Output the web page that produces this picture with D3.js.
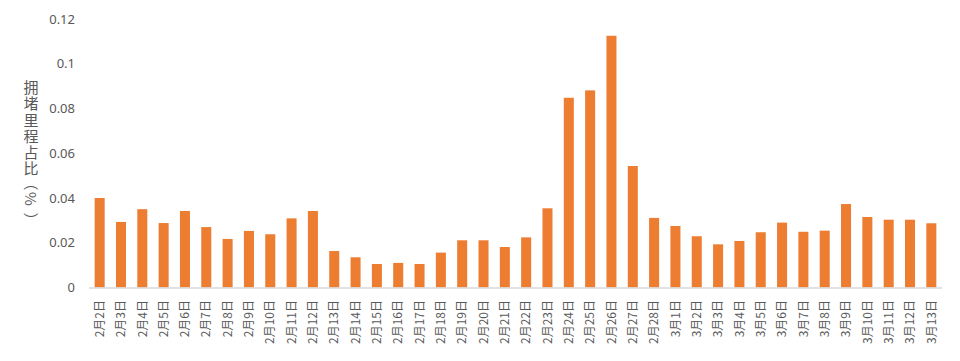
<!DOCTYPE html>
<html><head><meta charset="utf-8">
<script src="https://cdn.jsdelivr.net/npm/d3@7/dist/d3.min.js"></script>
<style>
body{margin:0;background:#fff;}
svg{display:block;}
</style></head>
<body>
<svg id="c" width="960" height="361"></svg>
<script>
const categories = ["2月2日","2月3日","2月4日","2月5日","2月6日","2月7日","2月8日","2月9日","2月10日","2月11日","2月12日","2月13日","2月14日","2月15日","2月16日","2月17日","2月18日","2月19日","2月20日","2月21日","2月22日","2月23日","2月24日","2月25日","2月26日","2月27日","2月28日","3月1日","3月2日","3月3日","3月4日","3月5日","3月6日","3月7日","3月8日","3月9日","3月10日","3月11日","3月12日","3月13日"];
const values = [0.0400,0.0293,0.0350,0.0288,0.0342,0.0270,0.0217,0.0253,0.0238,0.0309,0.0342,0.0163,0.0135,0.0105,0.0110,0.0105,0.0156,0.0211,0.0211,0.0181,0.0224,0.0354,0.0848,0.0881,0.1125,0.0543,0.0311,0.0275,0.0229,0.0193,0.0208,0.0247,0.0290,0.0249,0.0254,0.0373,0.0315,0.0303,0.0303,0.0287];
const yTicks = [0,0.02,0.04,0.06,0.08,0.1,0.12];
const yTitleMain = "拥堵里程占比";
const yTitleUnit = ["（","%","）"];

(function(){
const svg = d3.select("#c");
const mLeft = 89, mRight = 942, mTop = 19, mBottom = 287.5;
const x = d3.scaleBand().domain(categories).range([mLeft, mRight]).paddingInner(0.53).paddingOuter(0.265);
const y = d3.scaleLinear().domain([0, 0.12]).range([mBottom, mTop]);

svg.append("g").selectAll("rect").data(values).join("rect")
  .attr("x", (d,i) => x(categories[i]))
  .attr("width", x.bandwidth())
  .attr("y", d => y(d))
  .attr("height", d => y(0) - y(d))
  .attr("fill", "#ed7d31");

// x axis line
svg.append("line").attr("x1", mLeft).attr("x2", mRight).attr("y1", y(0)+0.5).attr("y2", y(0)+0.5)
  .attr("stroke", "#d9d9d9").attr("stroke-width", 1.5);

// y tick labels
const ya = d3.axisLeft(y).tickValues(yTicks).tickSize(0).tickPadding(0).tickFormat(d => String(+d.toFixed(2)));
const yg = svg.append("g").attr("transform", `translate(75,0)`).call(ya);
yg.select(".domain").remove();
yg.selectAll("text").attr("font-family", "'Noto Sans', 'Liberation Sans', sans-serif").attr("font-size", 13).attr("fill", "#595959");

// x labels
const xa = d3.axisBottom(x).tickSize(0).tickPadding(0);
const xg = svg.append("g").attr("transform", `translate(0,300)`).call(xa);
xg.select(".domain").remove();
xg.selectAll("text")
  .attr("font-family", "'Noto Sans CJK SC', sans-serif").attr("font-size", 12).attr("fill", "#595959")
  .attr("transform", "rotate(-90)").attr("text-anchor", "end").attr("dy", "0.35em").attr("y", 0).attr("x", 0);

// y title: vertical upright characters, then sideways unit
const tg = svg.append("g").attr("font-family", "'Noto Sans CJK SC', sans-serif").attr("font-size", 15).attr("fill", "#595959");
tg.append("text").attr("x", 31).attr("y", 80)
  .style("writing-mode", "vertical-rl").style("letter-spacing", "1.2px")
  .text(yTitleMain);
const unitY = [183, 199, 220];
tg.selectAll("text.u").data(yTitleUnit).join("text").attr("class", "u")
  .attr("text-anchor", "middle").attr("dominant-baseline", "central")
  .attr("transform", (d,i) => `translate(31,${unitY[i]}) rotate(90)`)
  .text(d => d);
})();
</script>
</body></html>
